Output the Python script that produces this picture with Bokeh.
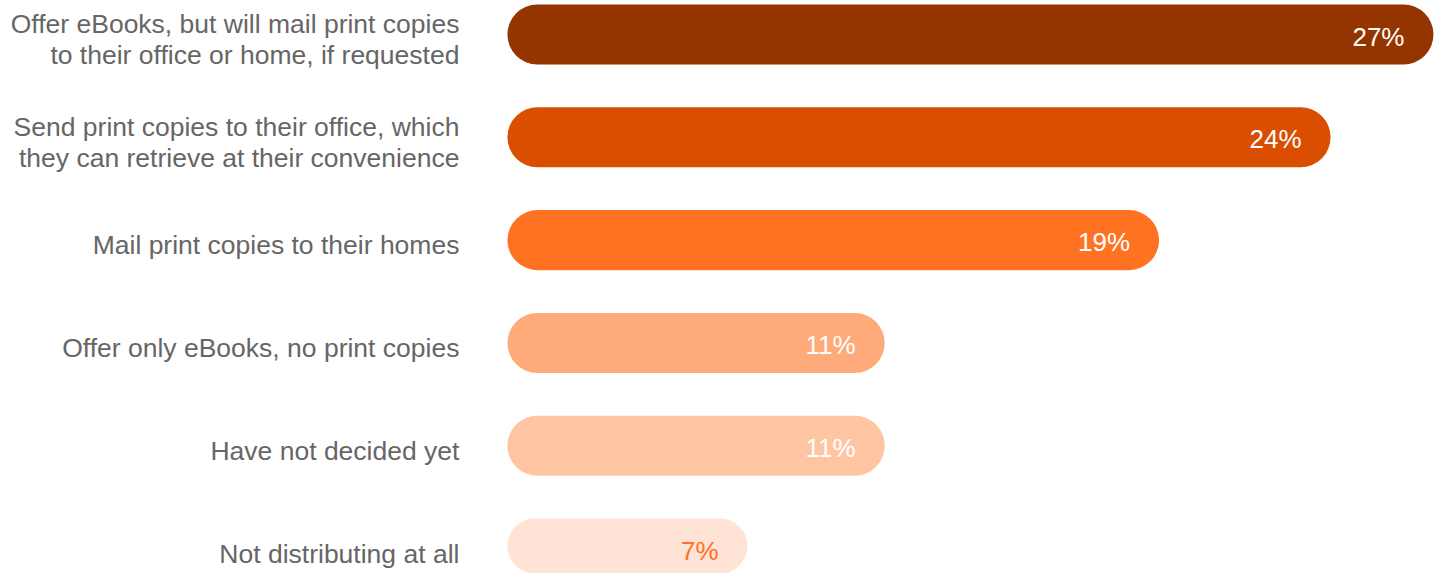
from bokeh.plotting import figure
from bokeh.models import ColumnDataSource, Range1d
from bokeh.embed import file_html
from bokeh.resources import INLINE
from bokeh.core.properties import value

categories = [
    "Offer eBooks, but will mail print copies\nto their office or home, if requested",
    "Send print copies to their office, which\nthey can retrieve at their convenience",
    "Mail print copies to their homes",
    "Offer only eBooks, no print copies",
    "Have not decided yet",
    "Not distributing at all",
]
values = [27, 24, 19, 11, 11, 7]
value_labels = ["27%", "24%", "19%", "11%", "11%", "7%"]
bar_colors = ["#943500", "#D94E00", "#FF7222", "#FFAA7A", "#FFC5A3", "#FFE3D4"]
label_colors = ["#FFFFFF", "#FFFFFF", "#FFFFFF", "#FFFFFF", "#FFFFFF", "#FF7222"]

src = ColumnDataSource(dict(
    y=list(range(len(categories))),
    cat=categories,
    v=values,
    lab=value_labels,
    color=bar_colors,
    lcolor=label_colors,
    zero=[0] * len(values),
))

p = figure(width=1434, height=573, output_backend="svg", toolbar_location=None,
           x_range=Range1d(-14.78, 27.03), y_range=Range1d(5.243, -0.331),
           min_border=0, outline_line_color=None)
p.axis.visible = False
p.grid.visible = False
p.background_fill_color = "white"

p.hbar(y="y", left="zero", right="v", height=0.584, color="color", source=src,
       line_color=None, border_radius=30)

p.text(x="v", y="y", text="lab", text_color="lcolor", source=src,
       text_align="right", text_baseline="middle", x_offset=-29, y_offset=2,
       text_font=value("Liberation Sans"), text_font_size="26px")

p.text(x="zero", y="y", text="cat", text_color="#666666", source=src,
       text_align="right", text_baseline="middle", x_offset=-48, y_offset=5,
       text_font=value("Liberation Sans"), text_font_size="26.5px",
       text_line_height=1.03)

open("out.html", "w").write(file_html(p, INLINE))
